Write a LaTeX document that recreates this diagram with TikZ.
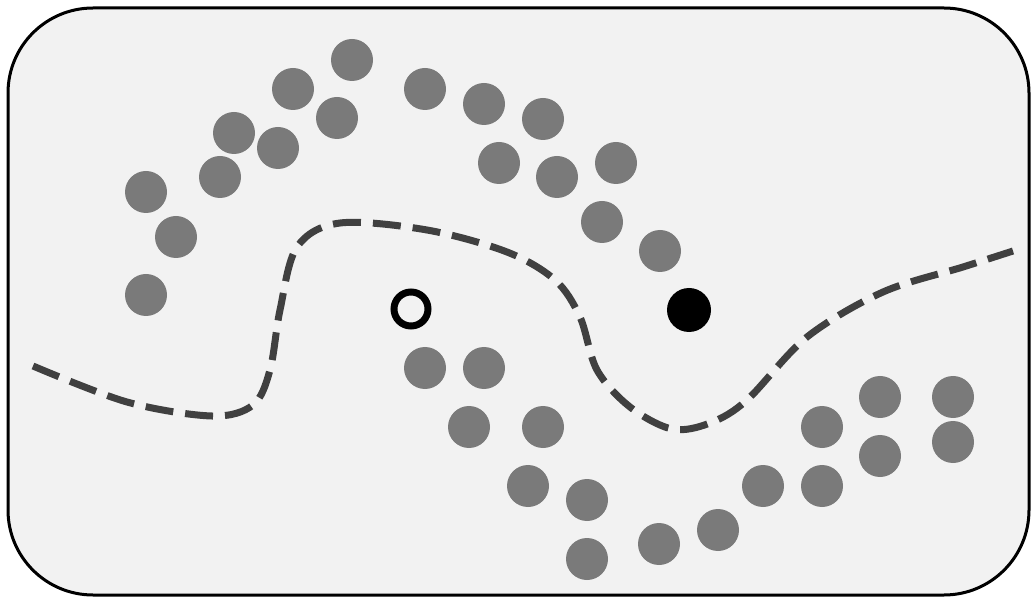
\documentclass[tikz,border=0pt]{standalone}
\usepackage{tikz}
\usetikzlibrary{positioning}
\usepackage{xcolor}

\definecolor{panelbg}{HTML}{F2F2F2}
\definecolor{pointgray}{HTML}{7A7A7A}
\definecolor{boundary}{HTML}{404040}

\begin{document}
\begin{tikzpicture}[
    x=0.03cm, y=-0.03cm,
    panel/.style={
        draw=black,
        line width=0.09cm,
        rounded corners=2.55cm,
        fill=panelbg
    },
    datapt/.style={
        circle,
        fill=pointgray,
        minimum size=1.26cm,
        inner sep=0pt
    },
    openpt/.style={
        circle,
        draw=black,
        line width=0.21cm,
        fill=panelbg,
        minimum size=1.02cm,
        inner sep=0pt
    },
    solidpt/.style={
        circle,
        fill=black,
        minimum size=1.32cm,
        inner sep=0pt
    },
    border/.style={
        draw=boundary,
        line width=0.21cm,
        dash pattern=on 0.84cm off 0.36cm
    }
]

\useasboundingbox (0,0) rectangle (1033,599);
\draw[panel] (8,8) rectangle (1029,595);

% upper moon
\foreach \x/\y [count=\i] in {146/192, 176/237, 146/295, 220/177, 234/133, 278/148,
    293/89, 337/118, 352/60, 425/89, 484/104, 499/163, 543/119, 557/177,
    616/163, 602/222, 660/251}
    \node[datapt] (up\i) at (\x,\y) {};

% lower moon
\foreach \x/\y [count=\i] in {425/368, 484/368, 469/427, 543/427, 528/486, 587/500,
    587/559, 659/544, 718/530, 763/486, 822/486, 822/427, 880/397, 880/456,
    953/397, 953/442}
    \node[datapt] (lo\i) at (\x,\y) {};

% query points
\node[openpt] (query) at (411,309) {};
\node[solidpt] (labeled) at (689,310) {};

% decision boundary
\draw[border] plot[smooth, tension=0.55] coordinates {
    (33,366) (127,402) (212,416) (253,405) (270,370) (280,310) (297,247)
    (340,223) (427,230) (507,252) (555,280) (580,317) (597,370) (630,407)
    (672,429) (710,423) (747,400) (807,337) (883,292) (963,267) (1013,251)};

\end{tikzpicture}
\end{document}
